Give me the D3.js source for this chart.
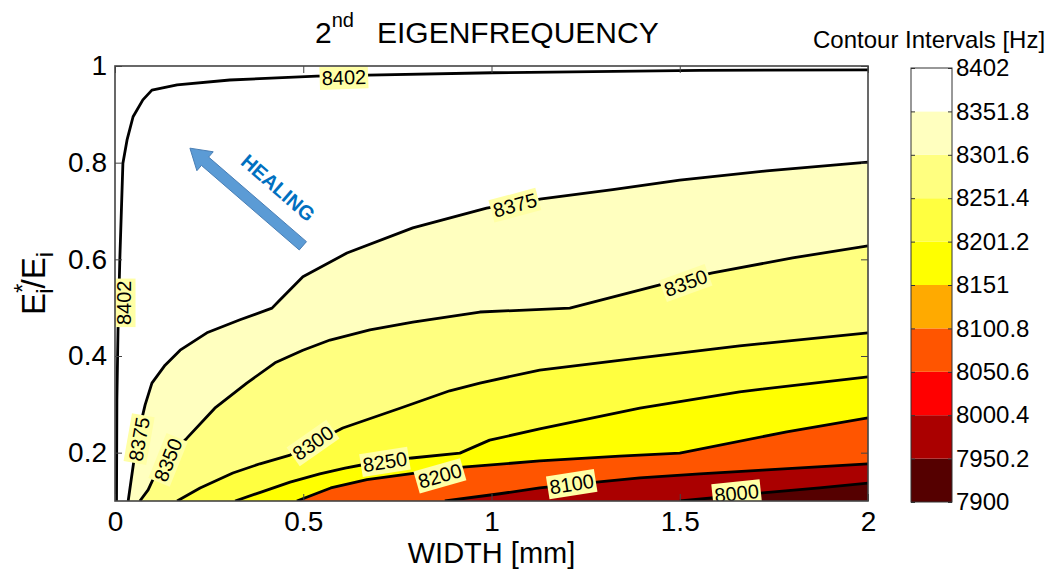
<!DOCTYPE html>
<html><head><meta charset="utf-8">
<script src="https://cdn.jsdelivr.net/npm/d3@7"></script>
<style>
html,body{margin:0;padding:0;background:#fff;}
text{font-family:"Liberation Sans",Arial,sans-serif;}
</style></head>
<body><svg id="chart" width="1054" height="569"></svg>
<script>
// ---------- data ----------
const xTicks = [0, 0.5, 1, 1.5, 2];
const yTicks = [0.2, 0.4, 0.6, 0.8, 1];
const cbTicks = [7900, 7950.2, 8000.4, 8050.6, 8100.8, 8151, 8201.2, 8251.4, 8301.6, 8351.8, 8402];
const hotColors = ["#550000","#aa0000","#ff0000","#ff5500","#ffaa00","#ffff00","#ffff40","#ffff80","#ffffbf","#ffffff"];
const contourLevels = [8402, 8375, 8350, 8300, 8250, 8200, 8100, 8000];
const minValue = 7900;

// contour lines: [WIDTH mm, Ei*/Ei]
const line8402 = [[0.004,0.1],[0.005,0.309],[0.008,0.454],[0.013,0.605],[0.021,0.799],[0.032,0.847],[0.048,0.895],[0.074,0.93],[0.098,0.95],[0.165,0.961],[0.305,0.971],[0.536,0.979],[0.672,0.981],[1.003,0.986],[1.553,0.991],[2.0,0.992]];
const line8375 = [[0.035,0.1],[0.043,0.144],[0.058,0.226],[0.080,0.299],[0.098,0.344],[0.133,0.381],[0.173,0.412],[0.244,0.448],[0.332,0.475],[0.417,0.499],[0.438,0.516],[0.499,0.564],[0.616,0.613],[0.791,0.665],[0.987,0.706],[1.133,0.725],[1.322,0.744],[1.500,0.764],[1.731,0.783],[2.0,0.801]];
const line8350 = [[0.066,0.1],[0.088,0.123],[0.119,0.175],[0.159,0.206],[0.191,0.230],[0.265,0.292],[0.350,0.344],[0.425,0.386],[0.499,0.412],[0.571,0.433],[0.677,0.454],[0.791,0.470],[0.969,0.491],[1.208,0.499],[1.447,0.547],[1.587,0.572],[1.800,0.603],[2.0,0.628]];
const line8300 = [[0.165,0.1],[0.226,0.127],[0.313,0.158],[0.385,0.177],[0.465,0.195],[0.605,0.251],[0.757,0.292],[0.889,0.328],[0.969,0.344],[1.128,0.371],[1.394,0.396],[1.659,0.421],[2.0,0.448]];
const line8250 = [[0.319,0.1],[0.390,0.119],[0.465,0.139],[0.544,0.156],[0.611,0.168],[0.658,0.175],[0.788,0.189],[0.916,0.199],[0.995,0.226],[1.128,0.249],[1.394,0.292],[1.659,0.326],[2.0,0.357]];
const line8200 = [[0.483,0.1],[0.573,0.127],[0.669,0.144],[0.802,0.158],[0.924,0.170],[1.128,0.183],[1.340,0.193],[1.500,0.199],[1.784,0.243],[2.0,0.272]];
const line8100 = [[0.876,0.1],[1.022,0.115],[1.128,0.127],[1.279,0.139],[1.394,0.148],[1.553,0.156],[1.720,0.164],[2.0,0.177]];
const line8000 = [[1.500,0.1],[1.606,0.108],[1.720,0.117],[1.871,0.127],[2.0,0.137]];
const contourLines = [line8402, line8375, line8350, line8300, line8250, line8200, line8100, line8000];

// inline contour labels: [level, x, y, angle]
const contourLabels = [
  [8402, 0.608, 0.976, -2],
  [8402, 0.024, 0.510, -90],
  [8375, 1.062, 0.712, -15],
  [8350, 1.516, 0.551, -20],
  [8375, 0.064, 0.228, -80],
  [8350, 0.141, 0.185, -68],
  [8300, 0.526, 0.220, -35],
  [8250, 0.717, 0.181, -9],
  [8200, 0.863, 0.152, -16],
  [8100, 1.213, 0.135, -9],
  [8000, 1.651, 0.116, -6]
];
const arrowTail = [0.499, 0.628], arrowTip = [0.199, 0.830];
const healingPos = [0.433, 0.748];

// ---------- drawing ----------
const svg = d3.select("#chart");
svg.append("rect").attr("width",1054).attr("height",569).attr("fill","#fff");

const x = d3.scaleLinear().domain([0,2]).range([115,868]);
const y = d3.scaleLinear().domain([0.1,1]).range([501,66]);

svg.append("defs").append("clipPath").attr("id","plotclip")
  .append("rect").attr("x",x(0)).attr("y",y(1)).attr("width",x(2)-x(0)).attr("height",y(0.1)-y(1));

const bandColor = d3.scaleThreshold().domain(cbTicks.slice(1,-1)).range(hotColors);

const plot = svg.append("g").attr("clip-path","url(#plotclip)");
plot.append("rect").attr("x",x(0)).attr("y",y(1)).attr("width",x(2)-x(0)).attr("height",y(0.1)-y(1)).attr("fill","#fff");

const lineGen = d3.line().x(d=>x(d[0])).y(d=>y(d[1]));

// fills: region below each level (values lower than level lie toward bottom-right)
contourLevels.forEach((lev,i)=>{
  if (i===0) return;
  const lower = i+1 < contourLevels.length ? contourLevels[i+1] : minValue;
  const pts = contourLines[i].concat([[2,0.1]]);
  plot.append("path").attr("d", lineGen(pts)+"Z").attr("fill", bandColor(lower)).attr("stroke","none");
});
// contour lines
contourLines.forEach(l=>{
  plot.append("path").attr("d", lineGen(l)).attr("fill","none").attr("stroke","#000").attr("stroke-width",2.8).attr("stroke-linejoin","round");
});
// labels
contourLabels.forEach(([lev,lx,ly,ang])=>{
  const g = plot.append("g").attr("transform",`translate(${x(lx)},${y(ly)}) rotate(${ang})`);
  const r = g.append("rect").attr("fill","#ffffa6");
  const t = g.append("text").attr("text-anchor","middle").attr("dominant-baseline","central")
    .attr("font-size",20).attr("fill","#000").text(String(lev));
  const w = t.node().getComputedTextLength();
  r.attr("x",-w/2-2).attr("y",-11.5).attr("width",w+4).attr("height",23);
});

// arrow
(function(){
  const x0=x(arrowTail[0]), y0=y(arrowTail[1]), x1=x(arrowTip[0]), y1=y(arrowTip[1]);
  const dx=x1-x0, dy=y1-y0, L=Math.hypot(dx,dy), ux=dx/L, uy=dy/L, nx=-uy, ny=ux;
  const sw=5.5, hw=12.5, hl=20;
  const bx=x1-ux*hl, by=y1-uy*hl;
  const pts=[[x0+nx*sw,y0+ny*sw],[bx+nx*sw,by+ny*sw],[bx+nx*hw,by+ny*hw],[x1,y1],[bx-nx*hw,by-ny*hw],[bx-nx*sw,by-ny*sw],[x0-nx*sw,y0-ny*sw]];
  svg.append("path").attr("d", d3.line()(pts)+"Z").attr("fill","#5b9bd5").attr("stroke","#4a7fb5").attr("stroke-width",1);
})();
svg.append("text").attr("transform",`translate(${x(healingPos[0])},${y(healingPos[1])}) rotate(41)`)
  .attr("text-anchor","middle").attr("dominant-baseline","central")
  .attr("font-size",20).attr("font-weight","bold").attr("fill","#0070c0").text("HEALING");

// axes
const tickCol = "#444";
const ax = svg.append("g").attr("transform",`translate(0,${y(0.1)})`)
  .call(d3.axisBottom(x).tickValues(xTicks).tickFormat(d=>String(d)).tickSize(-7).tickSizeOuter(0).tickPadding(10));
const axT = svg.append("g").attr("transform",`translate(0,${y(1)})`)
  .call(d3.axisTop(x).tickValues(xTicks).tickFormat("").tickSize(-7).tickSizeOuter(0));
const ay = svg.append("g").attr("transform",`translate(${x(0)},0)`)
  .call(d3.axisLeft(y).tickValues(yTicks).tickFormat(d=>String(d)).tickSize(-7).tickSizeOuter(0).tickPadding(8));
const ayR = svg.append("g").attr("transform",`translate(${x(2)},0)`)
  .call(d3.axisRight(y).tickValues(yTicks).tickFormat("").tickSize(-7).tickSizeOuter(0));
[ax,axT,ay,ayR].forEach(g=>{
  g.select(".domain").remove();
  g.selectAll(".tick line").attr("stroke",tickCol).attr("stroke-width",1);
  g.selectAll(".tick text").attr("font-size",28).attr("fill","#000").attr("font-family","Liberation Sans, Arial, sans-serif");
});
svg.append("rect").attr("x",x(0)).attr("y",y(1)).attr("width",x(2)-x(0)).attr("height",y(0.1)-y(1))
  .attr("fill","none").attr("stroke","#444").attr("stroke-width",1.6);

// titles
const title = svg.append("text").attr("x",315).attr("y",43).attr("font-size",30).attr("fill","#000");
title.append("tspan").text("2");
title.append("tspan").attr("font-size",20).attr("dy",-16).text("nd");
title.append("tspan").attr("x",377).attr("dy",16).text("EIGENFREQUENCY");

svg.append("text").attr("x",(x(0)+x(2))/2).attr("y",563).attr("text-anchor","middle")
  .attr("font-size",29).attr("fill","#000").text("WIDTH [mm]");

const yl = svg.append("text").attr("transform",`translate(45,${(y(0.1)+y(1))/2}) rotate(-90)`)
  .attr("text-anchor","middle").attr("font-size",33).attr("fill","#000");
yl.append("tspan").text("E");
yl.append("tspan").attr("font-size",24).attr("dy",-14).text("*");
yl.append("tspan").attr("font-size",24).attr("dx",-10).attr("dy",22).text("i");
yl.append("tspan").attr("dy",-8).text("/E");
yl.append("tspan").attr("font-size",24).attr("dy",8).text("i");

// colorbar
const cbx0 = 911, cbx1 = 952;
const yc = d3.scaleLinear().domain([7900,8402]).range([502,68]);
const cb = svg.append("g");
for (let i=0;i<cbTicks.length-1;i++){
  cb.append("rect").attr("x",cbx0).attr("width",cbx1-cbx0)
    .attr("y",yc(cbTicks[i+1])).attr("height",yc(cbTicks[i])-yc(cbTicks[i+1]))
    .attr("fill",hotColors[i]);
}
const cbAxis = svg.append("g").attr("transform",`translate(${cbx1},0)`)
  .call(d3.axisRight(yc).tickValues(cbTicks).tickFormat(d=>String(d)).tickSize(-4).tickSizeOuter(0).tickPadding(4));
cbAxis.select(".domain").remove();
cbAxis.selectAll(".tick line").attr("stroke","#333");
cbAxis.selectAll(".tick text").attr("font-size",24).attr("fill","#000").attr("font-family","Liberation Sans, Arial, sans-serif");
const cbAxisL = svg.append("g").attr("transform",`translate(${cbx0},0)`)
  .call(d3.axisLeft(yc).tickValues(cbTicks).tickFormat("").tickSize(-4).tickSizeOuter(0));
cbAxisL.select(".domain").remove();
cbAxisL.selectAll(".tick line").attr("stroke","#333");
svg.append("rect").attr("x",cbx0).attr("y",yc(8402)).attr("width",cbx1-cbx0).attr("height",yc(7900)-yc(8402))
  .attr("fill","none").attr("stroke","#333").attr("stroke-width",1);
svg.append("text").attr("x",813).attr("y",48).attr("font-size",24).attr("fill","#000").text("Contour Intervals [Hz]");
</script></body></html>
